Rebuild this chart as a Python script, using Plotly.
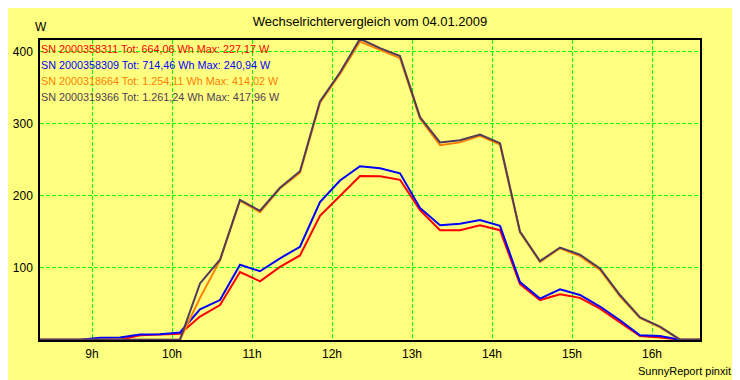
import plotly.graph_objects as go

# ---- data (15-minute readings, W) ----
times = ["08:21", "08:36", "08:51", "09:06", "09:21", "09:36", "09:51", "10:06",
         "10:21", "10:36", "10:51", "11:06", "11:21", "11:36", "11:51", "12:06",
         "12:21", "12:36", "12:51", "13:06", "13:21", "13:36", "13:51", "14:06",
         "14:21", "14:36", "14:51", "15:06", "15:21", "15:36", "15:51", "16:06",
         "16:21", "16:36"]

sn_358311 = [0, 0, 0, 0, 0, 6, 6.5, 8,
             32, 48, 94, 81, 101, 117, 172, 199,
             227.17, 227, 222, 180, 152, 152, 159, 152,
             77, 55, 63, 58, 43, 24, 5, 3,
             0, 0]
sn_358309 = [0, 0, 0, 2.5, 3, 7, 7.5, 10,
             42, 55, 104, 95, 113, 129, 191, 221,
             240.94, 238, 231, 183, 159, 161, 166, 158,
             80, 57, 70, 62, 46, 27, 6, 5,
             0, 0]
sn_318664 = [0, 0, 0, 0, 0, 0, 0, 0,
             58, 110, 193, 177, 210, 232, 329, 369,
             414.02, 402, 391, 307, 270, 274, 283, 271,
             149, 108, 127, 116, 97, 60, 30, 17,
             0, 0]
sn_319366 = [0, 0, 0, 0, 0, 0, 0, 0,
             78, 111, 194, 179, 211, 234, 331, 371,
             417.96, 405, 394, 309, 274, 277, 285, 273,
             150, 109, 128, 118, 99, 62, 31, 18,
             0, 0]

serials = ["2000358311", "2000358309", "2000318664", "2000319366"]
totals = ["664,06", "714,46", "1.254,11", "1.261,24"]
maxima = ["227,17", "240,94", "414,02", "417,96"]
colors = ["#FF0000", "#0000FF", "#FF8000", "#503C58"]

hour_ticks = [9, 10, 11, 12, 13, 14, 15, 16]
hour_labels = ["9h", "10h", "11h", "12h", "13h", "14h", "15h", "16h"]
y_ticks = [100, 200, 300, 400]

title_text = "Wechselrichtervergleich vom 04.01.2009"
unit_text = "W"
footer_text = "SunnyReport pinxit"


def to_hours(t):
    h, m = t.split(":")
    return int(h) + int(m) / 60.0


x = [to_hours(t) for t in times]
series = [sn_358311, sn_358309, sn_318664, sn_319366]

BG = "#FFFF80"
FONT = "Liberation Sans, Arial, sans-serif"

# the page body has an 8px default margin, so the figure is sized to fill the rest
W, H = 732, 372

fig = go.Figure()
for vals, sn, col in zip(series, serials, colors):
    fig.add_trace(go.Scatter(x=x, y=vals, mode="lines", name="SN " + sn,
                             line=dict(color=col, width=2), showlegend=False))

annotations = []
for i, (sn, tot, mx, col) in enumerate(zip(serials, totals, maxima, colors)):
    annotations.append(dict(
        text=f"SN {sn} Tot: {tot} Wh Max: {mx} W",
        xref="paper", yref="paper", x=0, y=1, xanchor="left", yanchor="middle",
        xshift=-1, yshift=-8.5 - 16.3 * i, showarrow=False,
        font=dict(family=FONT, size=10.8, color=col)))

annotations.append(dict(text=unit_text, xref="paper", yref="paper", x=0, y=1,
                        xanchor="center", yanchor="middle", xshift=1, yshift=13,
                        showarrow=False, font=dict(family=FONT, size=12, color="black")))
annotations.append(dict(text=footer_text, xref="paper", yref="paper", x=1, y=0,
                        xanchor="right", yanchor="middle", xshift=33, yshift=-31,
                        showarrow=False, font=dict(family=FONT, size=11, color="black")))

fig.update_layout(
    width=W, height=H,
    margin=dict(l=32, r=40, t=32, b=40, autoexpand=False),
    paper_bgcolor=BG, plot_bgcolor=BG,
    font=dict(family=FONT, size=12, color="black"),
    title=dict(text=title_text, x=(370 - 8) / W, xanchor="center", y=1 - 13 / H,
               yanchor="middle", font=dict(family=FONT, size=13, color="black")),
    annotations=annotations,
    showlegend=False,
)

fig.update_xaxes(range=[to_hours(times[0]), to_hours(times[-1])],
                 tickvals=hour_ticks, ticktext=hour_labels, automargin=False,
                 showgrid=True, gridcolor="#00FF00", gridwidth=1, griddash="4px,2px",
                 showline=True, linecolor="black", linewidth=1.5, mirror=True,
                 ticks="", zeroline=False, layer="above traces",
                 ticklabelstandoff=2,
                 tickfont=dict(family=FONT, size=12, color="black"))
fig.update_yaxes(range=[-0.5, 416.2], tickvals=y_ticks, automargin=False,
                 showgrid=True, gridcolor="#00FF00", gridwidth=1, griddash="4px,2px",
                 showline=True, linecolor="black", linewidth=1.5, mirror=True,
                 ticks="", zeroline=False, layer="above traces",
                 ticklabelstandoff=3,
                 tickfont=dict(family=FONT, size=12, color="black"))

fig.write_html("out.html")
